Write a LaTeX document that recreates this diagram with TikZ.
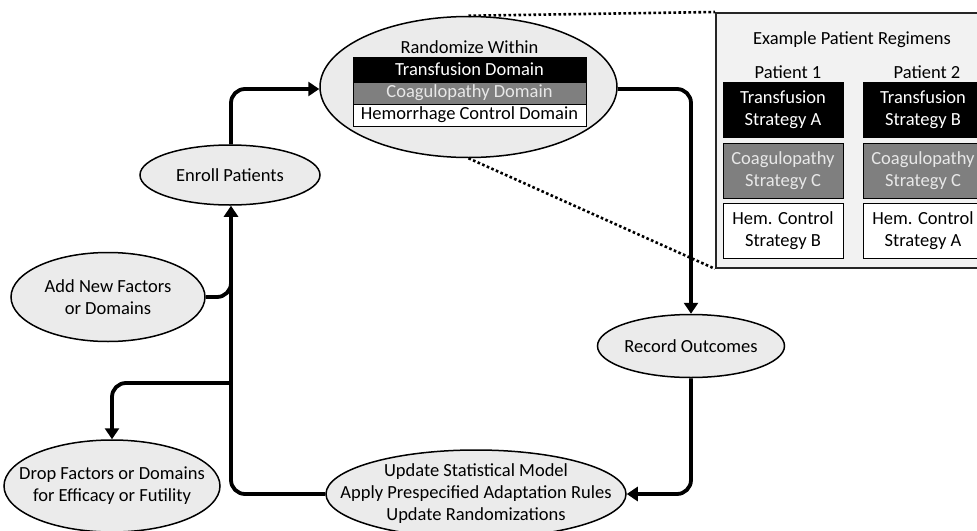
\documentclass[tikz,border=0pt]{standalone}
\usepackage{fontspec}
\setmainfont{Carlito}
\usetikzlibrary{shapes.geometric,arrows.meta}
\definecolor{ellfill}{HTML}{EBEBEB}
\definecolor{boxfill}{HTML}{F2F2F2}
\definecolor{midgray}{HTML}{7F7F7F}
\definecolor{lighttext}{HTML}{E8E8E8}
\begin{document}
\begin{tikzpicture}[x=1pt,y=-1pt,font=\fontsize{18.5}{22}\selectfont,
  ell/.style={ellipse,draw=black,line width=1.5pt,fill=ellfill,inner sep=0pt},
  txt/.style={align=center,inner sep=0pt},
  conn/.style={line width=3.8pt,rounded corners=14pt},
  arr/.style={-{Triangle[length=11pt,width=14pt]}},
  dots/.style={line width=2.6pt,dash pattern=on 2.6pt off 2.4pt},
  row/.style={rectangle,draw=black,line width=0.8pt,minimum width=233pt,inner sep=0pt},
  pbox/.style={rectangle,draw=black,line width=0.8pt,minimum width=120pt,minimum height=55pt,inner sep=0pt,align=center}]
\useasboundingbox (0,0) rectangle (977,530);
% ellipses
\node[ell,minimum width=297pt,minimum height=141pt] (rand) at (468.5,87) {};
\node[ell,minimum width=180pt,minimum height=60pt,label={[txt]center:Enroll Patients}] (enroll) at (230,175) {};
\node[ell,minimum width=194pt,minimum height=89pt,label={[txt]center:Add New Factors\\or Domains}] (add) at (108,297) {};
\node[ell,minimum width=216pt,minimum height=92pt,label={[txt]center:Drop Factors or Domains\\for Efficacy or Futility}] (drop) at (112,486) {};
\node[ell,minimum width=300pt,minimum height=88pt,label={[txt]center:Update Statistical Model\\Apply Prespecified Adaptation Rules\\Update Randomizations}] (update) at (476,494) {};
\node[ell,minimum width=187pt,minimum height=63pt,label={[txt]center:Record Outcomes}] (rec) at (691,346) {};
% randomize contents
\node (rtitle) at (469.5,47) {Randomize Within};
\node[row,fill=black,text=white,minimum height=25pt] (r1) at (469.5,69.5) {Transfusion Domain};
\node[row,fill=midgray,text=lighttext,minimum height=22pt] (r2) at (469.5,93) {Coagulopathy Domain};
\node[row,fill=white,minimum height=22pt] (r3) at (469.5,115) {Hemorrhage Control Domain};
% example box
\node[rectangle,draw=black!85,line width=1.8pt,fill=boxfill,minimum width=275pt,minimum height=255pt,inner sep=0pt,anchor=north west] (box) at (715,12) {};
\node (btitle) at (852,40) {Example Patient Regimens};
\node (p1) at (788,72) {Patient 1};
\node (p2) at (927,72) {Patient 2};
\node[pbox,fill=black,text=white] (a1) at (783,110) {Transfusion\\Strategy A};
\node[pbox,fill=midgray,text=lighttext] (b1) at (783,170.5) {Coagulopathy\\Strategy C};
\node[pbox,fill=white] (c1) at (783,230.5) {Hem. Control\\Strategy B};
\node[pbox,fill=black,text=white] (a2) at (923,110) {Transfusion\\Strategy B};
\node[pbox,fill=midgray,text=lighttext] (b2) at (923,170.5) {Coagulopathy\\Strategy C};
\node[pbox,fill=white] (c2) at (923,230.5) {Hem. Control\\Strategy A};
% dotted zoom lines
\draw[dots] (rand.north) -- (box.north west);
\draw[dots] (rand.south) -- (box.south west);
% connectors
\coordinate (j1) at (231,268);
\coordinate (j2) at (231,383);
\draw[conn,arr] ([xshift=1pt]enroll.north) |- ([yshift=-2pt]rand.west);
\draw[conn,arr] ([yshift=-2pt]rand.east) -| (rec.north);
\draw[conn,arr] (rec.south) |- (update.east);
\draw[conn,arr] (update.west) -| ([xshift=1pt]enroll.south);
\draw[conn] (add.east) -| (j1);
\draw[conn,arr] (j2) -| (drop.north);
\end{tikzpicture}
\end{document}
